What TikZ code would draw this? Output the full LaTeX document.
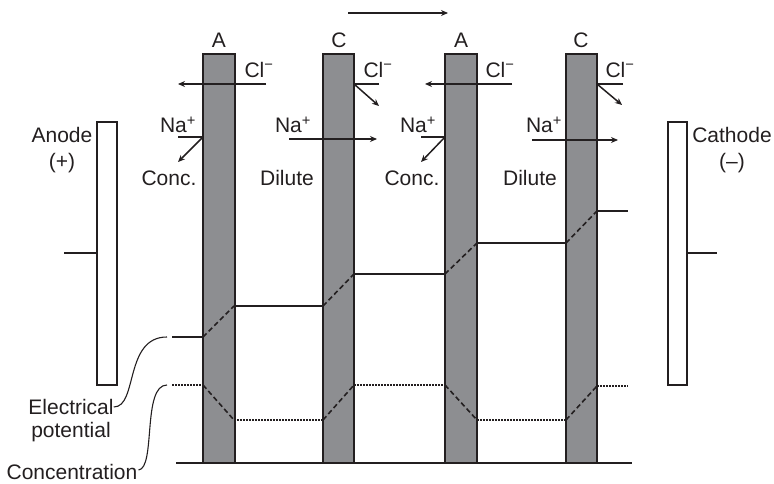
\documentclass[tikz,border=0pt]{standalone}
\usepackage{fontspec}
\setmainfont{Liberation Sans}
\usetikzlibrary{arrows.meta}
\definecolor{ink}{HTML}{231F20}
\definecolor{membgray}{HTML}{8D8E91}
\begin{document}
\begin{tikzpicture}[x=1pt,y=-1pt,
  lbl/.style={inner sep=0pt, text=ink, font=\fontsize{21}{23}\selectfont},
  memb/.style={draw=ink, fill=membgray, line width=1.8pt},
  elec/.style={draw=ink, fill=white, line width=1.8pt},
  ln/.style={draw=ink, line width=1.6pt},
  arr/.style={draw=ink, line width=1.5pt, -{Stealth[length=7pt,width=6pt]}},
  dsh/.style={draw=ink, line width=1.6pt, dash pattern=on 5pt off 3pt},
  dotl/.style={draw=ink, line width=1.6pt, dash pattern=on 1.5pt off 1.5pt}]
\useasboundingbox (0,0) rectangle (774,484);

% membranes
\draw[memb] (203,54) rectangle (235,463);
\draw[memb] (323,54) rectangle (354,463);
\draw[memb] (445,54) rectangle (477,463);
\draw[memb] (566,54) rectangle (597,463);
\draw[draw=ink, line width=2.6pt] (176,463) -- (632,463);

% electrodes
\draw[elec] (97,122) rectangle (117,385);
\draw[elec] (668,122) rectangle (687,385);
\draw[ln] (64,253) -- (97,253);
\draw[ln] (687,253) -- (717,253);
\node[lbl] (anode) at (62,135) {Anode};
\node[lbl] (anodep) at (62,163) {(+)};
\node[lbl] (cathode) at (732,135) {Cathode};
\node[lbl] (cathoden) at (732,163) {(–)};

% flow arrow
\coordinate (fs) at (348,13);
\coordinate (fe) at (448,13);
\draw[arr] (fs) -- (fe);

% membrane labels
\node[lbl] (mA1) at (219,40) {A};
\node[lbl] (mC1) at (339,40) {C};
\node[lbl] (mA2) at (461,40) {A};
\node[lbl] (mC2) at (581,40) {C};

% Cl- labels and arrows
\node[lbl] (cl1) at (259,70) {Cl\textsuperscript{−}};
\node[lbl] (cl2) at (378,70) {Cl\textsuperscript{−}};
\node[lbl] (cl3) at (500,70) {Cl\textsuperscript{−}};
\node[lbl] (cl4) at (620,70) {Cl\textsuperscript{−}};
\draw[arr] (266,84) -- (178,84);
\draw[arr] (512,84) -- (425,84);
\draw[ln] (379,84) -- (354,84);
\draw[arr] (354,84) -- (379,106);
\draw[ln] (623,84) -- (597,84);
\draw[arr] (597,84) -- (622,105);

% Na+ labels and arrows
\node[lbl] (na1) at (178,125) {Na\textsuperscript{+}};
\node[lbl] (na2) at (293,125) {Na\textsuperscript{+}};
\node[lbl] (na3) at (418,125) {Na\textsuperscript{+}};
\node[lbl] (na4) at (544,125) {Na\textsuperscript{+}};
\draw[ln] (178,137) -- (203,137);
\draw[arr] (203,137) -- (178,162);
\draw[ln] (421,137) -- (445,137);
\draw[arr] (445,137) -- (421,162);
\draw[arr] (289,139) -- (377,139);
\draw[arr] (532,140) -- (618,140);

% compartment labels
\node[lbl] (conc1) at (169,178) {Conc.};
\node[lbl] (dil1) at (287,178) {Dilute};
\node[lbl] (conc2) at (412,178) {Conc.};
\node[lbl] (dil2) at (530,178) {Dilute};

% electrical potential
\coordinate (ep0) at (172,337);
\draw[ln] (ep0) -- (203,337);
\draw[dsh] (203,337) -- (234,306);
\draw[ln] (234,306) -- (323,306);
\draw[dsh] (323,306) -- (354,274);
\draw[ln] (354,274) -- (445,274);
\draw[dsh] (445,274) -- (477,243);
\draw[ln] (477,243) -- (566,243);
\draw[dsh] (566,243) -- (597,211);
\draw[ln] (597,211) -- (628,211);

% concentration
\coordinate (cc0) at (172,385);
\draw[dotl] (cc0) -- (203,385);
\draw[dsh] (203,385) -- (234,420);
\draw[dotl] (234,420) -- (323,420);
\draw[dsh] (323,420) -- (354,385);
\draw[dotl] (354,385) -- (445,385);
\draw[dsh] (445,385) -- (477,420);
\draw[dotl] (477,420) -- (566,420);
\draw[dsh] (566,420) -- (597,386);
\draw[dotl] (597,386) -- (628,386);

% legend labels and leaders
\node[lbl] (elabel) at (71,407) {Electrical};
\node[lbl] (plabel) at (71,432) {potential};
\node[lbl] (clabel) at (72,472) {Concentration};
\coordinate (ept) at (167,337);
\coordinate (cct) at (167,385);
\draw[draw=ink, line width=1.1pt] (elabel.east) .. controls (138,407) and (124,337) .. (ept);
\draw[draw=ink, line width=1.1pt] (clabel.east) ++(1,-2) .. controls (156,468) and (142,385) .. (cct);
\end{tikzpicture}
\end{document}
